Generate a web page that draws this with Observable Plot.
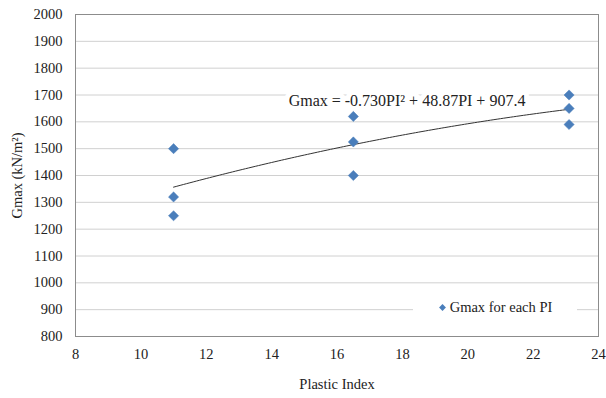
<!DOCTYPE html>
<html>
<head>
<meta charset="utf-8">
<script src="https://cdn.jsdelivr.net/npm/d3@7"></script>
<script src="https://cdn.jsdelivr.net/npm/@observablehq/plot@0.6"></script>
<style>
  html, body { margin: 0; padding: 0; background: #fff; }
  #wrap { position: relative; width: 606px; height: 398px; }
  #legend {
    position: absolute; left: 413px; top: 297px; width: 164px; height: 20px;
    background: #fff; font-family: "Liberation Serif", serif; font-size: 14.5px; color: #222;
    display: flex; align-items: center; justify-content: center; gap: 3px;
  }
  #legend svg { display: block; }
</style>
</head>
<body>
<div id="wrap"><div id="legend"></div></div>
<script>
// Data
const plasticIndex = [11, 11, 11, 16.5, 16.5, 16.5, 23.1, 23.1, 23.1];
const gmax =         [1500, 1320, 1250, 1620, 1525, 1400, 1700, 1650, 1590];
// Trendline coefficients (as printed on the chart): a*PI^2 + b*PI + c
const trendCoeffs = [-0.730, 48.87, 907.4];
const trendRange = [11, 23.1];
const equationLabel = ["Gmax = -0.730PI² + 48.87PI + 907.4"];
const legendLabel = "Gmax for each PI";
const xTicks = [8, 10, 12, 14, 16, 18, 20, 22, 24];
const yTicks = [800, 900, 1000, 1100, 1200, 1300, 1400, 1500, 1600, 1700, 1800, 1900, 2000];

const points = plasticIndex.map((x, i) => ({x, y: gmax[i]}));
const trend = d3.range(trendRange[0], trendRange[1] + 1e-9, 0.1).concat([trendRange[1]])
  .map(x => ({x, y: trendCoeffs[0] * x * x + trendCoeffs[1] * x + trendCoeffs[2]}));

const blue = "#4a7ebb";

const chart = Plot.plot({
  width: 606,
  height: 398,
  marginLeft: 75,
  marginRight: 8,
  marginTop: 14,
  marginBottom: 62,
  style: {fontFamily: "Liberation Serif, serif", fontSize: "14.5px", color: "#222", background: "#fff"},
  x: {domain: [8, 24], ticks: xTicks, tickFormat: "d", tickSize: 0, tickPadding: 12, label: "Plastic Index", labelArrow: false, labelAnchor: "center", labelOffset: 52},
  y: {domain: [800, 2000], ticks: yTicks, tickFormat: "d", tickSize: 0, tickPadding: 13, label: "Gmax (kN/m²)", labelArrow: false, labelAnchor: "center", labelOffset: 64},
  marks: [
    Plot.gridY(yTicks, {stroke: "#d0d0d0", strokeOpacity: 1, strokeWidth: 1}),
    Plot.frame({stroke: "#8c8c8c"}),
    Plot.line(trend, {x: "x", y: "y", stroke: "#333", strokeWidth: 1}),
    Plot.text(equationLabel, {frameAnchor: "top", dx: 70, dy: 80, text: d => d, fill: "#222", stroke: "#fff", strokeWidth: 10, fontSize: 16}),
    Plot.dot(points, {x: "x", y: "y", symbol: "diamond2", r: 4.6, fill: blue, stroke: blue, strokeWidth: 0.5})
  ]
});
document.getElementById("wrap").prepend(chart);

const leg = document.getElementById("legend");
const sym = d3.create("svg").attr("width", 9).attr("height", 9);
sym.append("path").attr("transform", "translate(4.5,4.5)")
  .attr("d", d3.symbol(d3.symbolDiamond2, 30)()).attr("fill", blue);
leg.append(sym.node());
const span = document.createElement("span");
span.textContent = legendLabel;
leg.append(span);
</script>
</body>
</html>
